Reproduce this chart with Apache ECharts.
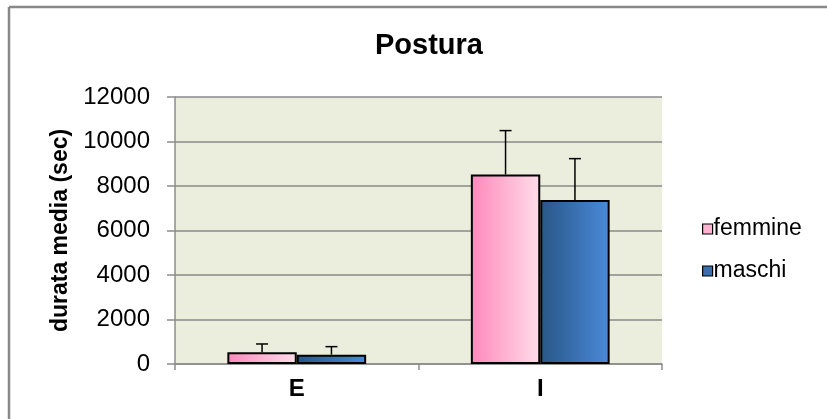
<!DOCTYPE html>
<html>
<head>
<meta charset="utf-8">
<script src="https://cdn.jsdelivr.net/npm/echarts@6/dist/echarts.min.js"></script>
<style>
html,body{margin:0;padding:0;background:#fff;}
#c{width:827px;height:419px;}
</style>
</head>
<body>
<div id="c"></div>
<script>
const categories = ['E', 'I'];
const femmine = [525, 8520];
const maschi = [420, 7370];
const femmineErr = [375, 1970];
const maschiErr = [360, 1860];
const yTicks = [0, 2000, 4000, 6000, 8000, 10000, 12000];

const FONT = 'Liberation Sans, Arial, sans-serif';
const CAT_GAP = 0.43;

function errSeries(name, means, errs, side) {
  return {
    type: 'custom',
    name: name + '_err',
    silent: true,
    z: 5,
    data: categories.map((c, i) => [i, means[i], errs[i]]),
    renderItem: function (params, api) {
      const idx = api.value(0);
      const mean = api.value(1);
      const err = api.value(2);
      const band = api.size([1, 0])[0];
      const barW = band * (1 - CAT_GAP) / 2;
      const base = api.coord([idx, mean]);
      const top = api.coord([idx, mean + err]);
      const x = base[0] + side * barW / 2;
      const cap = 6;
      return {
        type: 'group',
        children: [
          { type: 'line', shape: { x1: x, y1: base[1], x2: x, y2: top[1] }, style: { stroke: '#000', lineWidth: 1.5 } },
          { type: 'line', shape: { x1: x - cap, y1: top[1], x2: x + cap, y2: top[1] }, style: { stroke: '#000', lineWidth: 1.5 } }
        ]
      };
    }
  };
}

const pinkGrad = new echarts.graphic.LinearGradient(0, 0, 1, 0, [
  { offset: 0, color: '#FF88BB' }, { offset: 1, color: '#FFDDE9' }
]);
const blueGrad = new echarts.graphic.LinearGradient(0, 0, 1, 0, [
  { offset: 0, color: '#285686' }, { offset: 1, color: '#4A8ADA' }
]);

const chart = echarts.init(document.getElementById('c'));
chart.setOption({
  animation: false,
  backgroundColor: '#ffffff',
  title: {
    text: 'Postura',
    left: 424,
    textAlign: 'center',
    top: 26,
    textStyle: { fontFamily: FONT, fontWeight: 'bold', fontSize: 29, color: '#000' }
  },
  graphic: [
    { type: 'line', shape: { x1: 9, y1: 7, x2: 827, y2: 7 }, style: { stroke: '#888', lineWidth: 2.5 } },
    { type: 'line', shape: { x1: 9, y1: 7, x2: 9, y2: 419 }, style: { stroke: '#888', lineWidth: 2.5 } }
  ],
  legend: {
    orient: 'vertical',
    left: 697,
    top: 212,
    itemWidth: 10,
    itemHeight: 10,
    itemGap: 18,
    textStyle: { fontFamily: FONT, fontSize: 23, color: '#000', lineHeight: 24, padding: [0, 0, 0, -4] },
    data: [
      { name: 'femmine', icon: 'rect', itemStyle: { color: '#FFB3D0', borderColor: '#000', borderWidth: 1.2 } },
      { name: 'maschi', icon: 'rect', itemStyle: { color: '#3A6EAE', borderColor: '#000', borderWidth: 1.2 } }
    ]
  },
  grid: { left: 175, right: 165, top: 97, bottom: 55, show: true, backgroundColor: '#ECEEDD', borderWidth: 0 },
  xAxis: {
    type: 'category',
    data: categories,
    axisLine: { lineStyle: { color: '#8c8c8c', width: 1.5 } },
    axisTick: { show: true, length: 6, alignWithLabel: false, lineStyle: { color: '#8c8c8c', width: 1.5 } },
    axisLabel: { fontFamily: FONT, fontWeight: 'bold', fontSize: 24, color: '#000', margin: 13 },
    splitLine: { show: false }
  },
  yAxis: {
    type: 'value',
    min: 0,
    max: 12000,
    interval: 2000,
    name: 'durata media (sec)',
    nameLocation: 'middle',
    nameRotate: 90,
    nameGap: 96,
    nameTextStyle: { fontFamily: FONT, fontWeight: 'bold', fontSize: 23, color: '#000' },
    axisLine: { show: true, lineStyle: { color: '#8c8c8c', width: 1.5 } },
    axisTick: { show: true, length: 8, lineStyle: { color: '#8c8c8c', width: 1.5 } },
    axisLabel: {
      fontFamily: FONT, fontSize: 24, color: '#000', margin: 25,
      formatter: v => yTicks.includes(v) ? String(v) : ''
    },
    splitLine: { show: true, lineStyle: { color: '#8a8a8a', width: 1.5 } }
  },
  series: [
    {
      name: 'femmine', type: 'bar', data: femmine,
      barGap: '0%', barCategoryGap: (CAT_GAP * 100) + '%',
      itemStyle: { color: pinkGrad, borderColor: '#000', borderWidth: 2 }
    },
    {
      name: 'maschi', type: 'bar', data: maschi,
      barGap: '0%', barCategoryGap: (CAT_GAP * 100) + '%',
      itemStyle: { color: blueGrad, borderColor: '#000', borderWidth: 2 }
    },
    errSeries('femmine', femmine, femmineErr, -1),
    errSeries('maschi', maschi, maschiErr, 1)
  ]
});
</script>
</body>
</html>
